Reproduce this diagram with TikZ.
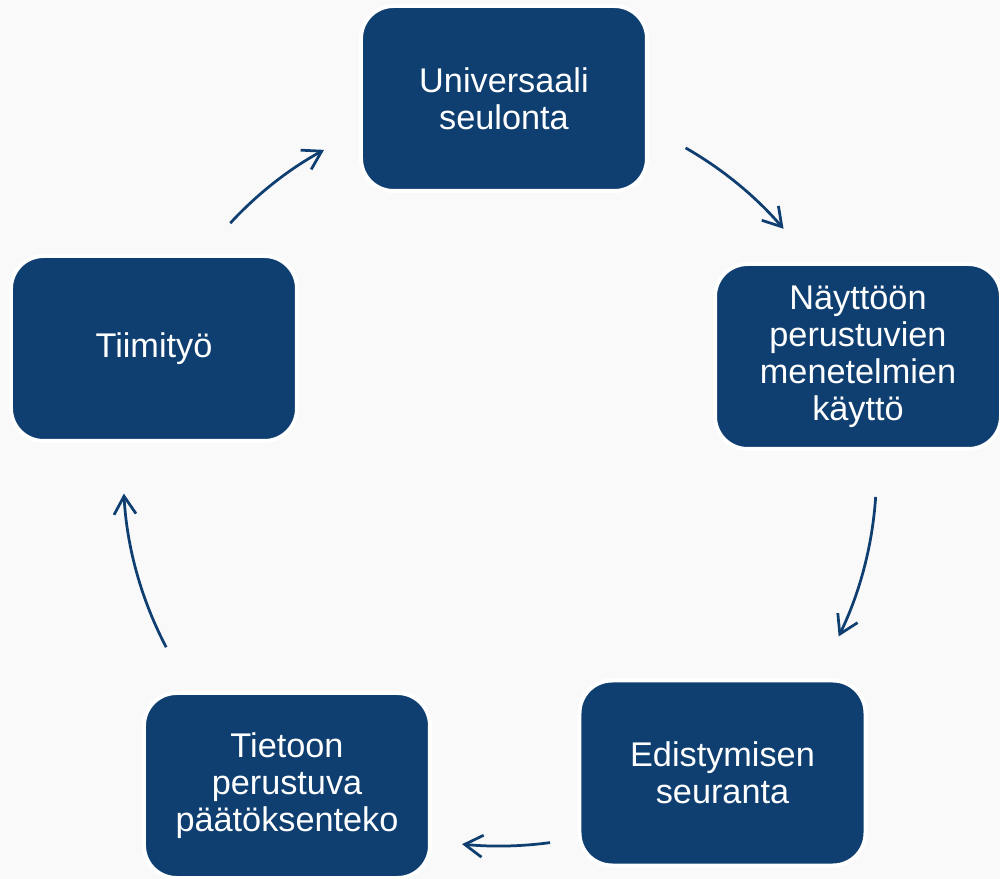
\documentclass[tikz,border=0pt]{standalone}
\usepackage{fontspec}
\setmainfont{Liberation Sans}
\usetikzlibrary{arrows.meta}
\definecolor{navy}{RGB}{15,63,112}
\definecolor{bg}{RGB}{249,249,250}

\begin{document}
\begin{tikzpicture}
[>={Straight Barb[length=3.6mm,width=4.4mm]},
box/.style = {draw=white, line width=0.8mm, fill=navy, rounded corners=6.5mm, minimum width=5.72cm, minimum height=3.70cm, text=white, align=center, font=\fontsize{19.5}{21}\selectfont},
flow/.style = {->, draw=navy, line width=0.55mm},]
\fill[bg] (-10,-8.14) rectangle (10,9.44);
\useasboundingbox (-10,-8.14) rectangle (10,9.44);
\node (univ) at (0.08,7.47)[box] {Universaali\\seulonta};
\node (nayt) at (7.16,2.31)[box] {Näyttöön\\perustuvien\\menetelmien\\käyttö};
\node (edis) at (4.45,-6.02)[box] {Edistymisen\\seuranta};
\node (tiet) at (-4.26,-6.27)[box] {Tietoon\\perustuva\\päätöksenteko};
\node (tiim) at (-6.92,2.47)[box] {Tiimityö};
\coordinate (a1) at (60.2:7.47);
\coordinate (a2) at (-3.8:7.53);
\coordinate (a3) at (-82.3:7.48);
\coordinate (a4) at (207.7:7.54);
\coordinate (a5) at (137.3:7.34);
\draw[flow] (a1) arc[start angle=60.2, end angle=40.7, radius=7.5];
\draw[flow] (a2) arc[start angle=-3.8, end angle=-25.9, radius=7.53];
\draw[flow] (a3) arc[start angle=-82.3, end angle=-95.7, radius=7.55];
\draw[flow] (a4) arc[start angle=207.7, end angle=183.1, radius=7.48];
\draw[flow] (a5) arc[start angle=137.3, end angle=118.7, radius=7.36];
\end{tikzpicture}
\end{document}
